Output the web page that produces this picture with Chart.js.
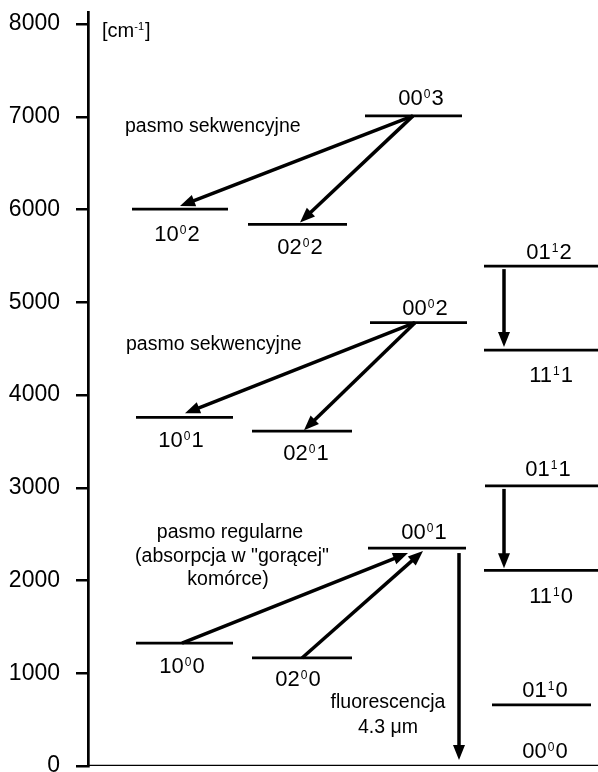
<!DOCTYPE html>
<html>
<head>
<meta charset="utf-8">
<script src="https://cdn.jsdelivr.net/npm/chart.js@4.4.1/dist/chart.umd.min.js"></script>
<style>
    html, body { margin: 0; padding: 0; background: #fff; }
</style>
</head>
<body>
<canvas id="levels" width="598" height="772"></canvas>
<script>
// CO2 vibrational levels, energies in cm-1
const yTicks = [0, 1000, 2000, 3000, 4000, 5000, 6000, 7000, 8000];
const levelBase = ['00', '10', '02', '01', '00', '11', '10', '02', '01', '00', '11', '10', '02', '01', '00'];
const levelSup = ['0', '0', '0', '1', '0', '1', '0', '0', '1', '0', '1', '0', '0', '1', '0'];
const levelTail = ['3', '2', '2', '2', '2', '1', '1', '1', '1', '1', '0', '0', '0', '0', '0'];
const levelEnergy = [7010, 6005, 5840, 5390, 4780, 4485, 3760, 3610, 3020, 2350, 2110, 1325, 1165, 660, 0];
// transitions: index of level from -> to
const transFrom = [0, 0, 4, 4, 11, 12, 3, 8, 9];
const transTo = [1, 2, 6, 7, 9, 9, 5, 10, 14];
const notes = ['pasmo sekwencyjne', 'pasmo sekwencyjne', 'pasmo regularne', '(absorpcja w "gorącej"', 'komórce)', 'fluorescencja', '4.3 μm'];

// layout (x in px from the axis)
const levelSpan = [[277, 374], [44, 140], [160, 259], [396, 510], [282, 379], [396, 510], [48, 145], [164, 264],
    [397, 510], [280, 378], [396, 510], [48, 145], [164, 264], [404, 503], [0, 510]];
const labelX = [333, 89, 212, 461, 337, 463, 93, 218, 460, 336, 463, 94, 210, 457, 457];
const labelDy = [-19, 24, 22, -15, -16, 24, 22, 21, -18, -17, 25, 22, 20, -16, -16];
const arrowX = [[325, 92], [325, 212], [327, 97], [327, 216], [94, 320], [214, 335], [416, 416], [416, 416], [371, 371]];
const arrowStartGap = [0, 0, 0, 0, 0, 0, 3, 3, 5];
const arrowTipGap = [3, 2, 4, 1, 5, 3, 3, 2, 6];
// note positions: [x, baseline y, align] in canvas px
const notePos = [[125, 132, 'left'], [126, 350, 'left'], [230, 538, 'center'], [232, 562, 'center'],
    [228, 585, 'center'], [388, 708, 'center'], [388, 733, 'center']];

const FONT = "'Liberation Sans', Arial, sans-serif";

function drawArrow(c, x0, y0, x1, y1) {
    const ang = Math.atan2(y1 - y0, x1 - x0);
    const hl = 15, hw = 6;
    const bx = x1 - hl * Math.cos(ang), by = y1 - hl * Math.sin(ang);
    c.beginPath();
    c.moveTo(x0, y0);
    c.lineTo(bx + 2 * Math.cos(ang), by + 2 * Math.sin(ang));
    c.stroke();
    c.beginPath();
    c.moveTo(x1, y1);
    c.lineTo(bx - hw * Math.sin(ang), by + hw * Math.cos(ang));
    c.lineTo(bx + hw * Math.sin(ang), by - hw * Math.cos(ang));
    c.closePath();
    c.fill();
}

function drawLevelName(c, base, sup, tail, cx, cy) {
    c.font = '22px ' + FONT;
    const wb = c.measureText(base).width, wt = c.measureText(tail).width;
    c.font = '12px ' + FONT;
    const ws = c.measureText(sup).width;
    let x = cx - (wb + ws + wt + 2) / 2;
    const base_y = cy + 7.9;
    c.textAlign = 'left';
    c.textBaseline = 'alphabetic';
    c.font = '22px ' + FONT;
    c.fillText(base, x, base_y);
    x += wb + 1;
    c.font = '12px ' + FONT;
    c.fillText(sup, x, base_y - 7);
    x += ws + 1;
    c.font = '22px ' + FONT;
    c.fillText(tail, x, base_y);
}

const extras = {
    id: 'extras',
    afterDatasetsDraw(chart) {
        const c = chart.ctx;
        const xs = chart.scales.x, ys = chart.scales.y;
        c.save();
        c.strokeStyle = '#000';
        c.fillStyle = '#000';
        c.lineWidth = 3.5;
        c.lineCap = 'butt';
        transFrom.forEach((f, i) => {
            const t = transTo[i];
            const px0 = xs.getPixelForValue(arrowX[i][0]);
            const px1 = xs.getPixelForValue(arrowX[i][1]);
            let py0 = ys.getPixelForValue(levelEnergy[f]);
            let py1 = ys.getPixelForValue(levelEnergy[t]);
            const dir = Math.sign(py1 - py0);
            py0 += dir * arrowStartGap[i];
            py1 -= dir * arrowTipGap[i];
            drawArrow(c, px0, py0, px1, py1);
        });
        levelEnergy.forEach((e, i) => {
            const cx = xs.getPixelForValue(labelX[i]);
            const cy = ys.getPixelForValue(e) + labelDy[i];
            drawLevelName(c, levelBase[i], levelSup[i], levelTail[i], cx, cy);
        });
        c.textBaseline = 'alphabetic';
        c.font = '19.5px ' + FONT;
        notes.forEach((n, i) => {
            c.textAlign = notePos[i][2];
            c.fillText(n, notePos[i][0], notePos[i][1]);
        });
        // unit label
        c.textAlign = 'left';
        c.font = '20px ' + FONT;
        c.fillText('[cm', 102, 37);
        let w = c.measureText('[cm').width;
        c.font = '11px ' + FONT;
        c.fillText('-1', 102 + w, 30);
        w += c.measureText('-1').width;
        c.font = '20px ' + FONT;
        c.fillText(']', 102 + w + 1, 37);
        c.restore();
    }
};

new Chart(document.getElementById('levels'), {
    type: 'scatter',
    data: {
        datasets: levelEnergy.map((e, i) => ({
            data: [{x: levelSpan[i][0], y: e}, {x: levelSpan[i][1], y: e}],
            showLine: true,
            borderColor: '#000',
            borderWidth: 2.7,
            pointRadius: 0,
        }))
    },
    options: {
        responsive: false,
        animation: false,
        layout: {
            padding: {top: 12, right: 0, bottom: 6, left: 0}
        },
        plugins: {
            legend: {display: false},
            tooltip: {enabled: false}
        },
        scales: {
            x: {
                type: 'linear',
                display: false,
                min: 0,
                max: 510,
            },
            y: {
                type: 'linear',
                min: 0,
                max: 8130,
                afterBuildTicks: function (scale) {
                    scale.ticks = yTicks.map(v => ({value: v}));
                },
                afterFit: function (scale) {
                    scale.width = 88;
                    scale.paddingTop = 0;
                    scale.paddingBottom = 0;
                },
                ticks: {
                    color: '#000',
                    padding: 16,
                    font: {family: FONT, size: 23},
                    callback: function (value) {
                        return String(value);
                    }
                },
                grid: {
                    drawOnChartArea: false,
                    tickLength: 12,
                    tickColor: '#000',
                    tickWidth: 2.5,
                    lineWidth: 2.5
                },
                border: {
                    display: true,
                    color: '#000',
                    width: 2.7
                }
            }
        }
    },
    plugins: [extras]
});
</script>
</body>
</html>
